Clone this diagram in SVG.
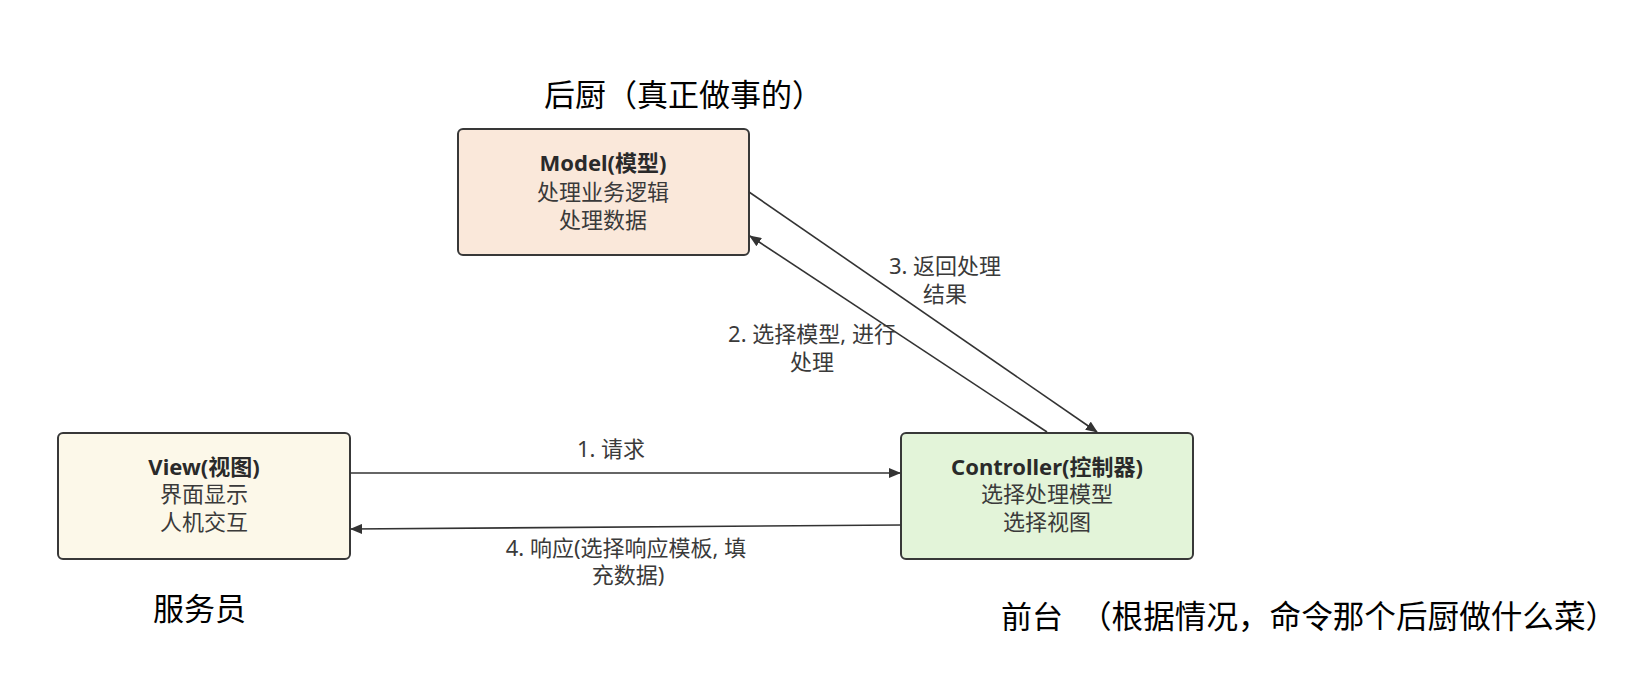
<svg xmlns="http://www.w3.org/2000/svg" width="1649" height="679" viewBox="0 0 1649 679">
<style>
.box{stroke:#383838;stroke-width:2}
.t{font-family:"Noto Sans","Noto Sans CJK SC",sans-serif;font-size:22px;fill:#3a3a3a;text-anchor:middle}
.b{font-weight:bold;fill:#2a2a2a}
.lbl{font-family:"Noto Sans","Noto Sans CJK SC",sans-serif;font-size:22px;fill:#3a3a3a;text-anchor:middle}
.big{font-family:"Noto Sans CJK SC",sans-serif;font-size:31px;fill:#000}
.e{stroke:#333;stroke-width:1.6;fill:none;marker-end:url(#arr)}
</style>
<defs>
<marker id="arr" viewBox="0 0 12 10" refX="11" refY="5" markerWidth="12" markerHeight="10" markerUnits="userSpaceOnUse" orient="auto">
<path d="M0,0 L12,5 L0,10 Z" fill="#333"/>
</marker>
</defs>
<rect width="1649" height="679" fill="#fff"/>
<g id="title-model"><text class="big" x="544" y="106">后厨（真正做事的）</text></g>
<g id="title-view"><text class="big" x="153" y="620">服务员</text></g>
<g id="title-controller"><text class="big" x="1001" y="628">前台</text><text class="big" x="1080" y="628" style="font-size:31.6px">（根据情况，命令那个后厨做什么菜）</text></g>
<g id="model">
<rect class="box" x="458" y="129" width="291" height="126" rx="5" fill="#fae8da"/>
<text class="t b" x="603" y="171">Model(模型)</text>
<text class="t" x="603" y="200">处理业务逻辑</text>
<text class="t" x="603" y="228">处理数据</text>
</g>
<g id="view">
<rect class="box" x="58" y="433" width="292" height="126" rx="5" fill="#fcf8e9"/>
<text class="t b" x="204" y="475">View(视图)</text>
<text class="t" x="204" y="502">界面显示</text>
<text class="t" x="204" y="530">人机交互</text>
</g>
<g id="controller">
<rect class="box" x="901" y="433" width="292" height="126" rx="5" fill="#e3f4d9"/>
<text class="t b" x="1047" y="475">Controller(控制器)</text>
<text class="t" x="1047" y="502">选择处理模型</text>
<text class="t" x="1047" y="530">选择视图</text>
</g>
<g id="connectors">
<path class="e" d="M350,473 L900,473"/>
<path class="e" d="M1047,432 L750,236"/>
<path class="e" d="M749,192 L1097,432"/>
<path class="e" d="M901,525 L351,529"/>
<text class="lbl" x="611" y="457">1. 请求</text>
<text class="lbl" x="812" y="342">2. 选择模型, 进行</text>
<text class="lbl" x="812" y="370">处理</text>
<text class="lbl" x="945" y="274">3. 返回处理</text>
<text class="lbl" x="945" y="302">结果</text>
<text class="lbl" x="626" y="556">4. 响应(选择响应模板, 填</text>
<text class="lbl" x="628" y="583">充数据)</text>
</g>
</svg>
